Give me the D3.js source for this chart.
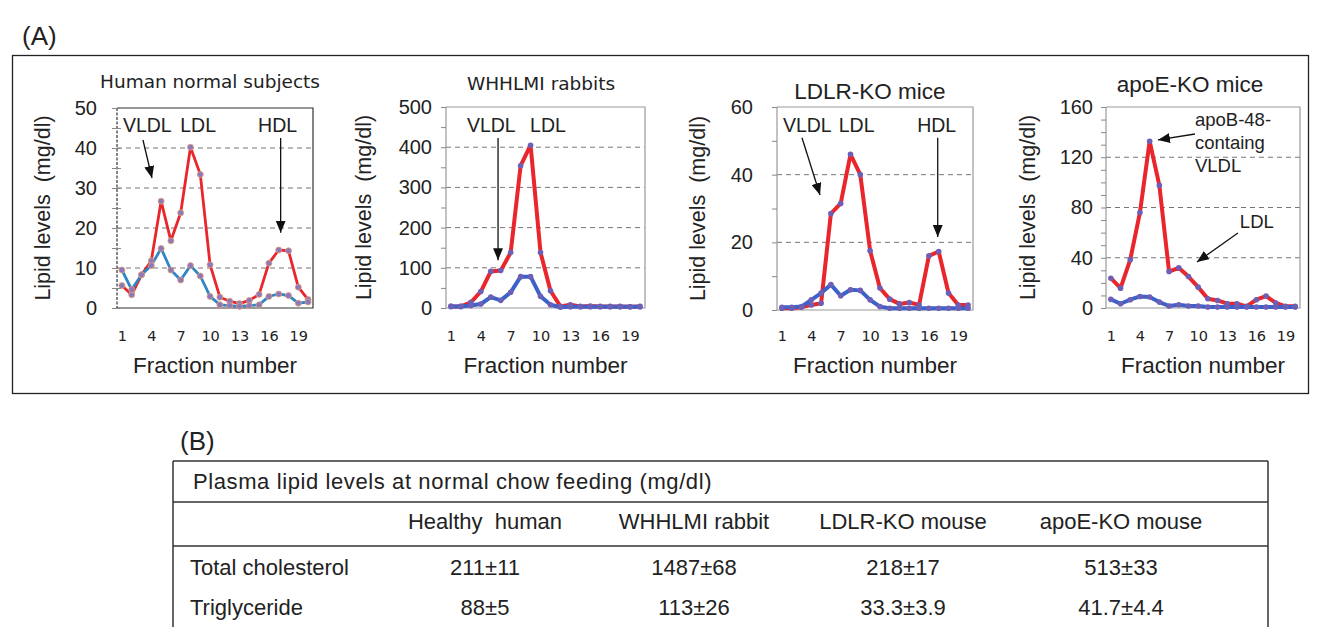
<!DOCTYPE html>
<meta charset="utf-8">
<style>

body {
  margin: 0;
  background: #fff;
}

text {
  font-family: "Liberation Sans", Arial, sans-serif;
  fill: #222;
}

</style>
<body>
<script src="https://cdn.jsdelivr.net/npm/d3@7/dist/d3.min.js"></script>
<script>

var width = 1320,
    height = 627;

// fraction numbers and the tick labels under each chart
var fractions = d3.range(1, 21);
var xTicks = [1, 4, 7, 10, 13, 16, 19];

// red = cholesterol, blue = triglyceride
var humanChol  = [5.6, 3.3, 8.3, 11.8, 26.7, 16.8, 23.8, 40.2, 33.4, 10.8, 2.7, 1.7, 1.1, 1.9, 3.4, 11.2, 14.5, 14.3, 5.2, 2.1];
var humanTG    = [9.5, 4.6, 8.3, 10.6, 14.9, 9.5, 7.0, 10.6, 8.0, 2.9, 0.8, 0.6, 0.4, 0.6, 0.8, 2.9, 3.5, 3.1, 1.2, 1.5];
var rabbitChol = [4, 4, 14, 41, 91, 93, 138, 354, 405, 138, 43, 4, 8, 4, 5, 4, 4, 4, 3, 4];
var rabbitTG   = [4, 4, 6, 10, 27, 19, 39, 78, 78, 29, 8, 2, 3, 3, 3, 3, 3, 3, 3, 3];
var ldlrChol   = [0.5, 0.5, 0.8, 1.5, 2, 28.5, 31.5, 46, 40, 17.5, 6.5, 3.2, 1.8, 2.2, 1.5, 16, 17.3, 5, 1.5, 1.5];
var ldlrTG     = [0.8, 0.8, 1, 3, 5, 7.5, 4.2, 6, 5.8, 3, 1, 0.5, 0.5, 0.5, 0.5, 0.5, 0.5, 0.5, 0.5, 0.5];
var apoeChol   = [23.7, 15.8, 38.5, 76, 132.7, 97.6, 29, 32, 25, 16.6, 7.4, 6, 3.4, 3.4, 1.3, 6.6, 9.5, 4, 1.3, 1.3];
var apoeTG     = [6.9, 3.4, 6.6, 9.2, 8.7, 4.7, 1.6, 2.6, 1.6, 1.6, 0.8, 0.8, 0.8, 0.8, 0.8, 0.8, 0.8, 0.8, 0.8, 0.8];

var titles = ["Human normal subjects", "WHHLMI rabbits", "LDLR-KO mice", "apoE-KO mice"];
var yMax = [50, 500, 60, 160];
var yLabelStep = [10, 100, 20, 40];
var yMinorStep = [5, 50, 10, 10];
var yGrid = [[10, 20, 30, 40], [100, 200, 300, 400], [20, 40], [40, 80, 120]];

// annotations in data units: [fraction, value]
var labels = [
  [{t: "VLDL", f: 1.1, v: 44}, {t: "LDL", f: 6.95, v: 44}, {t: "HDL", f: 14.9, v: 44}],
  [{t: "VLDL", f: 2.6, v: 438}, {t: "LDL", f: 8.95, v: 438}],
  [{t: "VLDL", f: 1.1, v: 52.7}, {t: "LDL", f: 6.8, v: 52.7}, {t: "HDL", f: 14.8, v: 52.7}],
  [{t: "apoB-48-", f: 9.67, v: 144.5}, {t: "containg", f: 9.67, v: 126.5}, {t: "VLDL", f: 9.67, v: 108}, {t: "LDL", f: 14.3, v: 63.7}]
];
var arrows = [
  [[3.15, 42, 4.07, 32.5], [17.2, 42.5, 17.2, 18.8]],
  [[5.73, 423, 5.73, 119]],
  [[3.05, 50.9, 4.89, 34], [16.9, 50.9, 16.9, 21.6]],
  [[9.67, 138.5, 5.86, 133.8], [14.1, 59.7, 9.88, 36.6]]
];

// table (B)
var tableTitle = "Plasma lipid levels at normal chow feeding (mg/dl)";
var tableHeads = ["Healthy  human", "WHHLMI rabbit", "LDLR-KO mouse", "apoE-KO mouse"];
var tableRows = [
  ["Total cholesterol", "211\u00b111", "1487\u00b168", "218\u00b117", "513\u00b133"],
  ["Triglyceride", "88\u00b15", "113\u00b126", "33.3\u00b13.9", "41.7\u00b14.4"]
];

var series = [[humanChol, humanTG], [rabbitChol, rabbitTG], [ldlrChol, ldlrTG], [apoeChol, apoeTG]];

// layout of the four plots
var frames = [
  {x0: 117, x1: 313, top: 108, bottom: 308, tickPad: 15, cross: 4, yLab: 42, titleFont: "DejaVu Sans", titleSize: 18.5, titleX: 210, titleY: 88, frame: "#333", lw: 2.8, blue: "#2f86c4"},
  {x0: 446, x1: 645, top: 107, bottom: 308, tickPad: 9, cross: 0, yLab: 363, titleFont: "DejaVu Sans", titleSize: 18.5, titleX: 541, titleY: 90, frame: "#9a9a9a", lw: 4, blue: "#3b62c8"},
  {x0: 777, x1: 973, top: 107, bottom: 310, tickPad: 19, cross: 0, yLab: 697, titleFont: "Liberation Sans", titleSize: 22.5, titleX: 870, titleY: 99, frame: "#9a9a9a", lw: 4, blue: "#3b62c8"},
  {x0: 1106, x1: 1300, top: 107, bottom: 308, tickPad: 8, cross: 0, yLab: 1027, titleFont: "Liberation Sans", titleSize: 22.5, titleX: 1190, titleY: 92, frame: "#9a9a9a", lw: 4, blue: "#3b62c8"}
];

var svg = d3.select("body").append("svg")
    .attr("width", width)
    .attr("height", height);

svg.append("defs").append("marker")
    .attr("id", "head")
    .attr("markerUnits", "userSpaceOnUse")
    .attr("viewBox", "0 0 12 10")
    .attr("refX", 12)
    .attr("refY", 5)
    .attr("markerWidth", 12)
    .attr("markerHeight", 10)
    .attr("orient", "auto")
  .append("path")
    .attr("d", "M0,0L12,5L0,10Z")
    .attr("fill", "#111");

// panel (A)
svg.append("text")
    .attr("x", 22)
    .attr("y", 45)
    .style("font-size", "26px")
    .text("(A)");

svg.append("rect")
    .attr("x", 12.5)
    .attr("y", 55.5)
    .attr("width", 1296)
    .attr("height", 338)
    .attr("fill", "none")
    .attr("stroke", "#222")
    .attr("stroke-width", 1.3);

frames.forEach(function(fr, k) {
  var x = d3.scaleLinear().domain([0.5, 20.5]).range([fr.x0, fr.x1]),
      y = d3.scaleLinear().domain([0, yMax[k]]).range([fr.bottom, fr.top]);

  var g = svg.append("g");

  g.selectAll(".grid")
      .data(yGrid[k])
    .enter().append("line")
      .attr("x1", fr.x0)
      .attr("x2", fr.x1)
      .attr("y1", function(d) { return y(d); })
      .attr("y2", function(d) { return y(d); })
      .attr("stroke", "#777")
      .attr("stroke-width", 1)
      .attr("stroke-dasharray", "5,4");

  g.append("path")
      .attr("d", "M" + fr.x0 + "," + fr.top + "H" + fr.x1 + "V" + fr.bottom + "H" + fr.x0)
      .attr("fill", "none")
      .attr("stroke", fr.frame)
      .attr("stroke-width", 1.2);
  g.append("line")
      .attr("x1", fr.x0).attr("x2", fr.x0)
      .attr("y1", fr.top).attr("y2", fr.bottom)
      .attr("stroke", fr.frame)
      .attr("stroke-width", 1.2)
      .attr("stroke-dasharray", k === 0 ? "3,1.5" : null);

  var yAxis = d3.axisLeft(y)
      .tickValues(d3.range(0, yMax[k] + 0.001, yMinorStep[k]))
      .tickSize(5)
      .tickPadding(fr.tickPad)
      .tickFormat(function(d) { return d % yLabelStep[k] === 0 ? d : ""; });

  var ya = g.append("g")
      .attr("transform", "translate(" + fr.x0 + ",0)")
      .call(yAxis);
  ya.select(".domain").remove();
  ya.selectAll("line").attr("stroke", "#888").attr("x1", fr.cross);
  ya.selectAll("text")
      .style("font-size", "20px")
      .style("font-family", "Liberation Sans, Arial, sans-serif")
      .attr("fill", "#222");

  var xa = g.append("g")
      .attr("transform", "translate(0," + fr.bottom + ")")
      .call(d3.axisBottom(x).tickValues(xTicks).tickSize(0).tickPadding(23 + (308 - fr.bottom)));
  xa.select(".domain").remove();
  xa.selectAll("text")
      .style("font-size", "14.5px")
      .style("font-family", "DejaVu Sans, Verdana, sans-serif")
      .attr("fill", "#222");

  g.append("text")
      .attr("x", (fr.x0 + fr.x1) / 2)
      .attr("y", 373)
      .attr("text-anchor", "middle")
      .style("font-size", "22.5px")
      .text("Fraction number");

  g.append("text")
      .attr("transform", "translate(" + fr.yLab + "," + (fr.top + fr.bottom) / 2 + ")rotate(-90)")
      .attr("dy", "0.35em")
      .attr("text-anchor", "middle")
      .attr("xml:space", "preserve")
      .style("font-size", "21.5px")
      .text("Lipid levels  (mg/dl)");

  g.append("text")
      .attr("x", fr.titleX)
      .attr("y", fr.titleY)
      .attr("text-anchor", "middle")
      .style("font-family", fr.titleFont)
      .style("font-size", fr.titleSize + "px")
      .text(titles[k]);

  var line = d3.line()
      .x(function(d, i) { return x(fractions[i]); })
      .y(function(d) { return y(d); });

  var colors = ["#e8262b", fr.blue];
  series[k].forEach(function(values, j) {
    g.append("path")
        .datum(values)
        .attr("d", line)
        .attr("fill", "none")
        .attr("stroke", colors[j])
        .attr("stroke-width", fr.lw)
        .attr("stroke-linejoin", "round");
  });
  series[k].forEach(function(values) {
    g.selectAll(null)
        .data(values)
      .enter().append("circle")
        .attr("cx", function(d, i) { return x(fractions[i]); })
        .attr("cy", function(d) { return y(d); })
        .attr("r", k === 0 ? 3 : 2.8)
        .attr("fill", k === 0 ? "#8d78bd" : "#6e5fb6")
        .attr("stroke", k === 0 ? "#e2a070" : "none")
        .attr("stroke-width", 0.8);
  });

  g.selectAll(".note")
      .data(labels[k])
    .enter().append("text")
      .attr("x", function(d) { return x(d.f); })
      .attr("y", function(d) { return y(d.v); })
      .style("font-size", k === 3 ? "18.5px" : "19.5px")
      .text(function(d) { return d.t; });

  g.selectAll(".arrow")
      .data(arrows[k])
    .enter().append("line")
      .attr("x1", function(d) { return x(d[0]); })
      .attr("y1", function(d) { return y(d[1]); })
      .attr("x2", function(d) { return x(d[2]); })
      .attr("y2", function(d) { return y(d[3]); })
      .attr("stroke", "#111")
      .attr("stroke-width", 1.3)
      .attr("marker-end", "url(#head)");
});

// panel (B)
var tx0 = 173, tx1 = 1268,
    colX = [190, 485, 694, 903, 1121];

svg.append("text")
    .attr("x", 180)
    .attr("y", 450)
    .style("font-size", "26px")
    .text("(B)");

var tb = svg.append("g");
[[tx0, 461, tx1, 461], [tx0, 502, tx1, 502], [tx0, 546, tx1, 546], [tx0, 461, tx0, 627], [tx1, 461, tx1, 627]]
  .forEach(function(l) {
    tb.append("line")
        .attr("x1", l[0]).attr("y1", l[1])
        .attr("x2", l[2]).attr("y2", l[3])
        .attr("stroke", "#333")
        .attr("stroke-width", 1.5);
  });

tb.append("text")
    .attr("x", 193)
    .attr("y", 489)
    .style("font-size", "22px")
    .style("letter-spacing", "0.6px")
    .text(tableTitle);

tb.selectAll(".head")
    .data(tableHeads)
  .enter().append("text")
    .attr("x", function(d, i) { return colX[i + 1]; })
    .attr("y", 529)
    .attr("text-anchor", "middle")
    .attr("xml:space", "preserve")
    .style("font-size", "22px")
    .text(function(d) { return d; });

tableRows.forEach(function(row, r) {
  tb.selectAll(null)
      .data(row)
    .enter().append("text")
      .attr("x", function(d, i) { return colX[i]; })
      .attr("y", 575 + r * 40)
      .attr("text-anchor", function(d, i) { return i === 0 ? "start" : "middle"; })
      .style("font-size", "22px")
      .text(function(d) { return d; });
});

</script>
